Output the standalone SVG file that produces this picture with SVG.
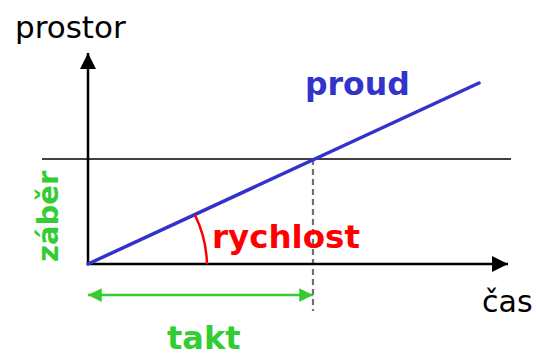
<svg xmlns="http://www.w3.org/2000/svg" width="536" height="356" viewBox="0 0 536 356">
<style>
.lbl{font-family:"DejaVu Sans",Verdana,sans-serif}
.b{font-weight:bold}
</style>
<defs>
<marker id="ab" viewBox="0 0 10 10" refX="10" refY="5" markerWidth="6.5" markerHeight="6.5" markerUnits="strokeWidth" orient="auto"><path d="M0,0L10,5L0,10z" fill="#000"/></marker>
<marker id="ag" viewBox="0 0 10 10" refX="10" refY="5" markerWidth="6" markerHeight="5.5" markerUnits="strokeWidth" orient="auto-start-reverse"><path d="M0,0L10,5L0,10z" fill="#33cc33"/></marker>
</defs>
<rect width="536" height="356" fill="#fff"/>
<g id="connectors">
<line x1="42" y1="159" x2="511" y2="159" stroke="#000" stroke-width="1.5"/>
<line x1="313" y1="159" x2="313" y2="311" stroke="#707070" stroke-width="2.2" stroke-dasharray="6,4"/>
<line x1="88" y1="265" x2="88" y2="53" stroke="#000" stroke-width="2.5" marker-end="url(#ab)"/>
<line x1="87" y1="264" x2="508" y2="264" stroke="#000" stroke-width="2.5" marker-end="url(#ab)"/>
<line x1="88" y1="264" x2="479" y2="83" stroke="#3333cc" stroke-width="3.5" stroke-linecap="round"/>
<path d="M195,215 A119,119 0 0 1 207,264" fill="none" stroke="#ff0000" stroke-width="2.5"/>
<line x1="88" y1="295" x2="313" y2="295" stroke="#33cc33" stroke-width="2.5" marker-start="url(#ag)" marker-end="url(#ag)"/>
</g>
<g id="prostor"><text class="lbl" x="15" y="38" font-size="31" fill="#000">prostor</text></g>
<g id="cas"><text class="lbl" x="482" y="312" font-size="30" fill="#000">čas</text></g>
<g id="proud"><text class="lbl b" x="305" y="95" font-size="31.5" fill="#3333cc">proud</text></g>
<g id="rychlost"><text class="lbl b" x="212" y="248" font-size="32.5" fill="#ff0000">rychlost</text></g>
<g id="takt"><text class="lbl b" x="167" y="349" font-size="32" fill="#33cc33">takt</text></g>
<g id="zaber"><text class="lbl b" transform="translate(58,262) rotate(-90)" font-size="29" fill="#33cc33">záběr</text></g>
</svg>
